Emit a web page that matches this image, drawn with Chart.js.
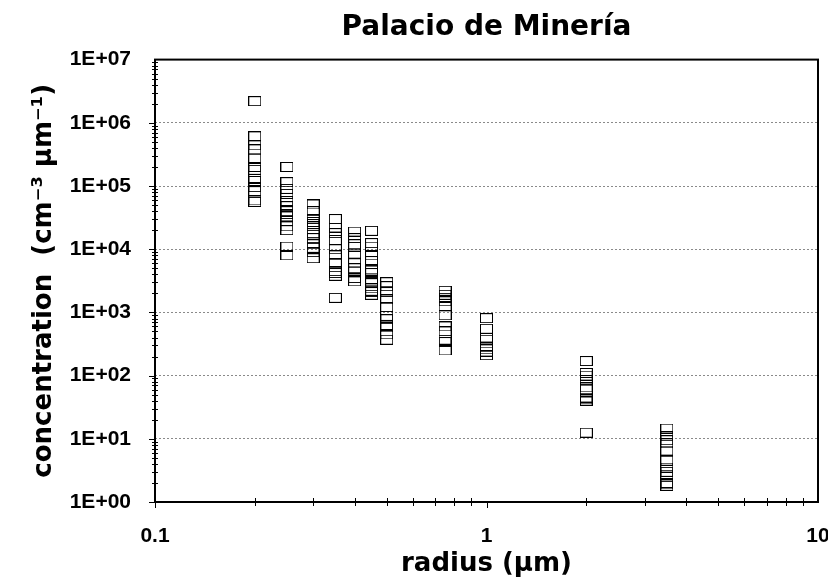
<!DOCTYPE html>
<html>
<head>
<meta charset="utf-8">
<title>Palacio de Minería</title>
<script src="https://cdn.jsdelivr.net/npm/chart.js@4.4.1/dist/chart.umd.min.js"></script>
<style>
  body { margin: 0; background: #fff; }
  #wrap { width: 828px; height: 580px; }
</style>
</head>
<body>
<div id="wrap"><canvas id="chart" width="828" height="580"></canvas></div>
<script>
// radius bins (µm) and the concentrations measured in each
const radii = [0.2, 0.25, 0.3, 0.35, 0.4, 0.45, 0.5, 0.75, 1.0, 2.0, 3.5];

const conc020 = [2.2e6, 6.1e5, 4.4e5, 3.8e5, 2.7e5, 2.0e5, 1.8e5, 1.3e5, 1.2e5, 9.6e4, 8.3e4, 5.9e4, 5.6e4];
const conc025 = [2.0e5, 1.15e5, 9.0e4, 7.5e4, 5.8e4, 4.8e4, 4.0e4, 3.6e4, 3.3e4, 2.8e4, 2.3e4, 2.0e4, 1.1e4, 8.0e3];
const conc030 = [5.1e4, 4.0e4, 3.0e4, 2.7e4, 2.5e4, 2.3e4, 1.8e4, 1.7e4, 1.5e4, 1.2e4, 1.05e4, 9.0e3, 7.2e3];
const conc035 = [3.0e4, 2.2e4, 1.8e4, 1.4e4, 1.0e4, 8.0e3, 6.0e3, 4.5e3, 4.2e3, 3.8e3, 1.7e3];
const conc040 = [1.9e4, 1.5e4, 1.2e4, 1.1e4, 8.5e3, 6.0e3, 5.0e3, 4.6e3, 3.5e3, 3.1e3];
const conc045 = [1.95e4, 1.25e4, 1.1e4, 8.0e3, 6.5e3, 4.8e3, 4.6e3, 4.2e3, 3.1e3, 2.9e3, 2.4e3, 2.2e3, 2.1e3, 1.9e3];
const conc050 = [3.0e3, 2.6e3, 2.1e3, 1.6e3, 1.2e3, 8.8e2, 7.8e2, 6.2e2, 5.8e2, 4.5e2, 3.7e2];
const conc075 = [2.2e3, 1.9e3, 1.7e3, 1.5e3, 1.25e3, 9.0e2, 6.0e2, 5.0e2, 3.7e2, 3.4e2, 2.5e2];
const conc100 = [8.1e2, 5.5e2, 4.0e2, 3.7e2, 2.8e2, 2.6e2, 2.4e2, 2.1e2];
const conc200 = [1.7e2, 1.1e2, 1.0e2, 8.5e1, 6.5e1, 6.0e1, 4.5e1, 4.2e1, 4.0e1, 3.9e1, 12.5];
const conc350 = [14.5, 11, 9.5, 8.5, 6.5, 4.5, 3.5, 3.0, 2.7, 2.0, 1.9, 1.8];

const concByRadius = [conc020, conc025, conc030, conc035, conc040, conc045,
                      conc050, conc075, conc100, conc200, conc350];

// tick labels
const xTickValues = [0.1, 1, 10];
const xTickLabels = ['0.1', '1', '10'];
const yTickValues = [1, 1e1, 1e2, 1e3, 1e4, 1e5, 1e6, 1e7];
const yTickLabels = ['1E+00', '1E+01', '1E+02', '1E+03', '1E+04', '1E+05', '1E+06', '1E+07'];

const TICK_FONT = '"Liberation Sans", Arial, Helvetica, sans-serif';
const TITLE_FONT = '"DejaVu Sans", Verdana, sans-serif';

// build the scatter points
const points = [];
radii.forEach((r, i) => {
  concByRadius[i].forEach(c => points.push({ x: r, y: c }));
});

// hollow rectangle marker
function makeMarker() {
  const c = document.createElement('canvas');
  c.width = 13;
  c.height = 10;
  const ctx = c.getContext('2d');
  ctx.strokeStyle = '#000';
  ctx.lineWidth = 1;
  ctx.strokeRect(0.5, 0.5, 12, 9);
  return c;
}

// frame and tick marks
const frameTicks = {
  id: 'frameTicks',
  afterDraw(chart) {
    const { ctx, chartArea: a, scales } = chart;
    const xs = scales.x, ys = scales.y;
    ctx.save();
    ctx.strokeStyle = '#000';
    ctx.lineWidth = 1;
    ctx.beginPath();
    for (let e = 0; e < 7; e++) {
      const d = Math.pow(10, e);
      const py = Math.round(ys.getPixelForValue(d)) + 0.5;
      ctx.moveTo(a.left - 6, py); ctx.lineTo(a.left, py);
      for (let m = 2; m <= 9; m++) {
        const my = Math.round(ys.getPixelForValue(d * m)) + 0.5;
        ctx.moveTo(a.left - 3, my); ctx.lineTo(a.left + 3, my);
      }
    }
    for (let e = -1; e < 1; e++) {
      const d = Math.pow(10, e);
      const px = Math.round(xs.getPixelForValue(d)) + 0.5;
      ctx.moveTo(px, a.bottom); ctx.lineTo(px, a.bottom + 6);
      for (let m = 2; m <= 9; m++) {
        const mx = Math.round(xs.getPixelForValue(d * m)) + 0.5;
        ctx.moveTo(mx, a.bottom - 4); ctx.lineTo(mx, a.bottom + 4);
      }
    }
    ctx.stroke();
    ctx.lineWidth = 2;
    ctx.strokeRect(a.left, a.top, a.right - a.left, a.bottom - a.top);
    ctx.restore();
  }
};

new Chart(document.getElementById('chart'), {
  type: 'scatter',
  data: {
    datasets: [{
      label: 'concentration',
      data: points,
      pointStyle: makeMarker(),
      pointRadius: 6,
      pointHoverRadius: 6
    }]
  },
  options: {
    responsive: false,
    animation: false,
    devicePixelRatio: 1,
    layout: { padding: { left: 0, right: 0, top: 0, bottom: 0 } },
    plugins: {
      legend: { display: false },
      tooltip: { enabled: false },
      title: {
        display: true,
        text: 'Palacio de Minería',
        fullSize: false,
        color: '#000',
        font: { family: TITLE_FONT, size: 28, weight: 'bold' },
        padding: { top: 11, bottom: 15 }
      }
    },
    scales: {
      x: {
        type: 'logarithmic',
        min: 0.1,
        max: 10,
        afterBuildTicks: s => { s.ticks = xTickValues.map(v => ({ value: v })); },
        afterFit: s => {
          s.height = 78;
          s.paddingRight = 10;
          s.paddingLeft = 0;
        },
        ticks: {
          color: '#000',
          font: { family: TICK_FONT, size: 21, weight: 'bold' },
          padding: 22,
          maxRotation: 0,
          callback: v => xTickLabels[xTickValues.indexOf(v)]
        },
        grid: { display: false, drawTicks: false },
        border: { display: false },
        title: {
          display: true,
          text: 'radius (µm)',
          color: '#000',
          font: { family: TITLE_FONT, size: 26, weight: 'bold' },
          padding: { top: 0, bottom: 0 }
        }
      },
      y: {
        type: 'logarithmic',
        min: 1,
        max: 1e7,
        afterBuildTicks: s => { s.ticks = yTickValues.map(v => ({ value: v })); },
        afterFit: s => { s.width = 155; },
        ticks: {
          color: '#000',
          font: { family: TICK_FONT, size: 21, weight: 'bold' },
          padding: 24,
          callback: v => yTickLabels[yTickValues.indexOf(v)]
        },
        grid: {
          drawTicks: false,
          color: c => (c.tick && c.tick.value > 1 && c.tick.value < 1e7) ? '#8a8a8a' : 'rgba(0,0,0,0)',
          lineWidth: 1
        },
        border: { display: false, dash: [2, 2] },
        title: {
          display: true,
          text: 'concentration  (cm⁻³ µm⁻¹)',
          color: '#000',
          font: { family: TITLE_FONT, size: 26, weight: 'bold' },
          padding: { top: 29, bottom: 0 }
        }
      }
    }
  },
  plugins: [frameTicks]
});
</script>
</body>
</html>
